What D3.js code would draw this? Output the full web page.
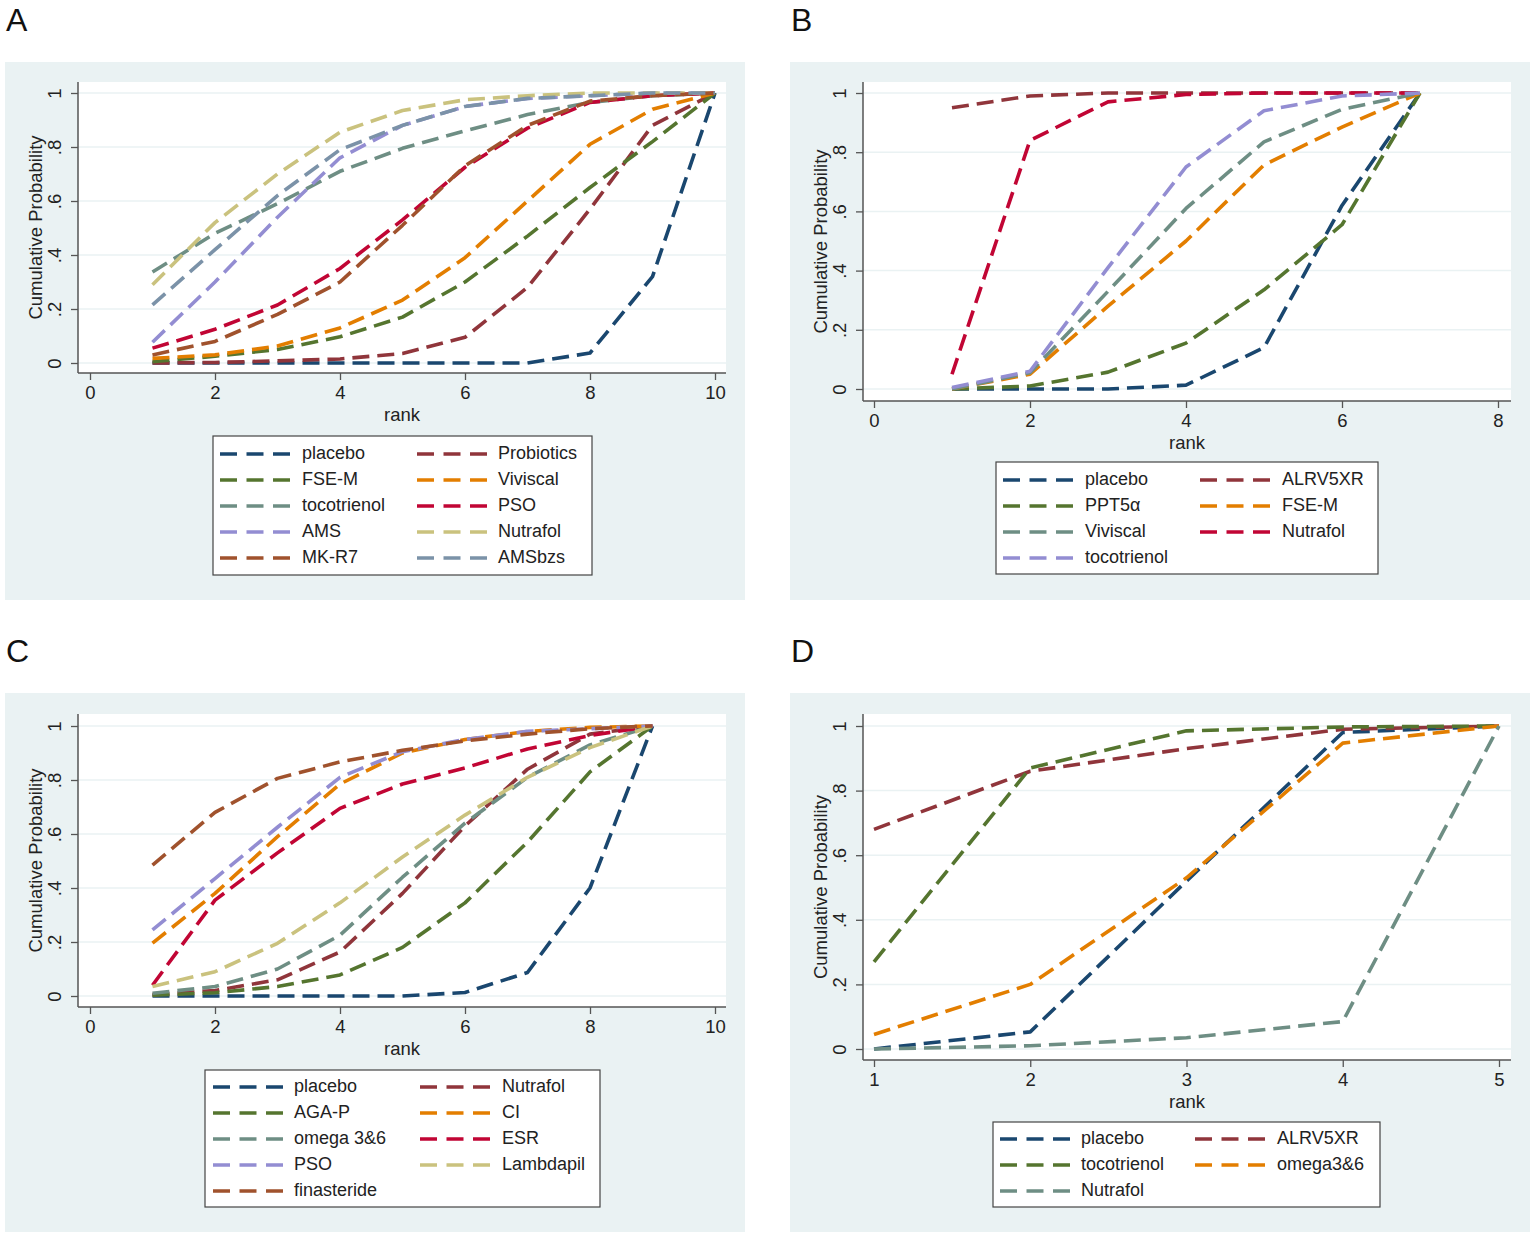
<!DOCTYPE html>
<html><head><meta charset="utf-8">
<script src="https://cdn.jsdelivr.net/npm/d3@7"></script>
<style>body{margin:0;background:#fff;} svg{display:block;font-family:"Liberation Sans",Arial,sans-serif;}</style>
</head><body><svg id="c" width="1535" height="1239"></svg>
<script>
// ---------- DATA ----------
const yTicks = [0, 0.2, 0.4, 0.6, 0.8, 1];
const yTickLabels = ["0", ".2", ".4", ".6", ".8", "1"];

// Panel A
const ranksA = [1,2,3,4,5,6,7,8,9,10];
const xTicksA = [0,2,4,6,8,10];
const namesA = ["placebo","Probiotics","FSE-M","Viviscal","tocotrienol","PSO","AMS","Nutrafol","MK-R7","AMSbzs"];
const valuesA = [
  [0,0,0,0,0,0,0,0.037,0.32,1],
  [0,0.002,0.008,0.015,0.035,0.095,0.28,0.57,0.88,1],
  [0.005,0.025,0.05,0.097,0.17,0.3,0.47,0.65,0.82,1],
  [0.017,0.03,0.063,0.13,0.233,0.39,0.6,0.81,0.94,1],
  [0.337,0.48,0.59,0.71,0.795,0.86,0.92,0.965,0.99,1],
  [0.055,0.125,0.215,0.35,0.53,0.725,0.87,0.965,0.99,1],
  [0.077,0.3,0.54,0.76,0.88,0.95,0.98,0.99,1,1],
  [0.29,0.52,0.7,0.855,0.935,0.975,0.99,1,1,1],
  [0.03,0.08,0.18,0.3,0.51,0.73,0.88,0.97,0.99,1],
  [0.215,0.42,0.62,0.79,0.88,0.95,0.98,0.99,1,1]
];
const colorsA = ["#1a476f","#90353b","#55752f","#e37e00","#6e8e84","#c10534","#938dd2","#cac27e","#a0522d","#7b92a8"];

// Panel B
const ranksB = [1,2,3,4,5,6,7];
const xTicksB = [0,2,4,6,8];
const namesB = ["placebo","ALRV5XR","PPT5\u03b1","FSE-M","Viviscal","Nutrafol","tocotrienol"];
const valuesB = [
  [0,0,0,0.013,0.14,0.62,1],
  [0.95,0.99,1,1,1,1,1],
  [0,0.01,0.057,0.155,0.335,0.555,1],
  [0,0.05,0.28,0.5,0.757,0.885,1],
  [0,0.055,0.33,0.61,0.835,0.945,1],
  [0.05,0.84,0.97,0.995,1,1,1],
  [0.005,0.06,0.41,0.75,0.94,0.99,1]
];
const colorsB = ["#1a476f","#90353b","#55752f","#e37e00","#6e8e84","#c10534","#938dd2"];

// Panel C
const ranksC = [1,2,3,4,5,6,7,8,9];
const xTicksC = [0,2,4,6,8,10];
const namesC = ["placebo","Nutrafol","AGA-P","CI","omega 3&6","ESR","PSO","Lambdapil","finasteride"];
const valuesC = [
  [0,0,0,0,0,0.013,0.087,0.4,1],
  [0.005,0.02,0.06,0.163,0.38,0.63,0.84,0.97,1],
  [0.003,0.012,0.035,0.078,0.18,0.345,0.57,0.83,1],
  [0.196,0.38,0.59,0.785,0.9,0.95,0.98,0.995,1],
  [0.01,0.035,0.1,0.225,0.44,0.64,0.81,0.93,1],
  [0.04,0.355,0.53,0.695,0.785,0.845,0.915,0.965,1],
  [0.245,0.435,0.625,0.81,0.905,0.95,0.98,0.99,1],
  [0.035,0.09,0.195,0.345,0.515,0.67,0.81,0.92,1],
  [0.485,0.68,0.806,0.867,0.91,0.945,0.97,0.99,1]
];
const colorsC = ["#1a476f","#90353b","#55752f","#e37e00","#6e8e84","#c10534","#938dd2","#cac27e","#a0522d"];

// Panel D
const ranksD = [1,2,3,4,5];
const xTicksD = [1,2,3,4,5];
const namesD = ["placebo","ALRV5XR","tocotrienol","omega3&6","Nutrafol"];
const valuesD = [
  [0,0.053,0.52,0.98,1],
  [0.68,0.86,0.93,0.99,1],
  [0.27,0.87,0.985,0.997,1],
  [0.045,0.2,0.53,0.947,1],
  [0,0.01,0.035,0.085,1]
];
const colorsD = ["#1a476f","#90353b","#55752f","#e37e00","#6e8e84"];

// ---------- LAYOUT ----------
const panels = [
  {letter:"A", bg:[5,62,740,538], plot:[78,82,726,373], xd:[0,10], xr:[90,715], yr:[363,93],
   ranks:ranksA, xticks:xTicksA, names:namesA, values:valuesA, colors:colorsA,
   leg:{box:[213,436,379,139], row0:454, c1:[220,302], c2:[417,498]}},
  {letter:"B", bg:[790,62,740,538], plot:[863,82,1511,401], xd:[0,8], xr:[874,1498], yr:[389,93],
   ranks:ranksB, xticks:xTicksB, names:namesB, values:valuesB, colors:colorsB,
   leg:{box:[996,462,382,112], row0:480, c1:[1003,1085], c2:[1200,1282]}},
  {letter:"C", bg:[5,693,740,539], plot:[78,714,726,1007], xd:[0,10], xr:[90,715], yr:[996,726],
   ranks:ranksC, xticks:xTicksC, names:namesC, values:valuesC, colors:colorsC,
   leg:{box:[205,1070,395,137], row0:1087, c1:[213,294], c2:[420,502]}},
  {letter:"D", bg:[790,693,740,539], plot:[863,714,1511,1060], xd:[1,5], xr:[874,1499], yr:[1049,726],
   ranks:ranksD, xticks:xTicksD, names:namesD, values:valuesD, colors:colorsD,
   leg:{box:[993,1122,387,85], row0:1139, c1:[1000,1081], c2:[1195,1277]}}
];

const svg = d3.select("#c");
const axisCol = "#555";
const textCol = "#222";
const fs = 18.5;

panels.forEach(p => {
  const g = svg.append("g");
  g.append("rect").attr("x",p.bg[0]).attr("y",p.bg[1]).attr("width",p.bg[2]).attr("height",p.bg[3]).attr("fill","#eaf2f3");
  const [px0,py0,px1,py1] = p.plot;
  g.append("rect").attr("x",px0).attr("y",py0).attr("width",px1-px0).attr("height",py1-py0).attr("fill","#fff");

  const x = d3.scaleLinear().domain(p.xd).range(p.xr);
  const y = d3.scaleLinear().domain([0,1]).range(p.yr);

  // gridlines
  g.selectAll(".grid").data(yTicks).join("line")
    .attr("x1",px0).attr("x2",px1).attr("y1",d=>y(d)).attr("y2",d=>y(d))
    .attr("stroke","#eaf2f3").attr("stroke-width",1.5);

  // lines
  const line = d3.line().x((d,i)=>x(p.ranks[i])).y(d=>y(d));
  p.values.forEach((vals,k) => {
    g.append("path").attr("d",line(vals)).attr("fill","none")
      .attr("stroke",p.colors[k]).attr("stroke-width",3.6)
      .attr("stroke-dasharray","17,8").attr("stroke-linejoin","round");
  });

  // axes
  const xAxis = d3.axisBottom(x).tickValues(p.xticks).tickSize(7).tickFormat(d3.format("d"));
  const xa = g.append("g").attr("transform",`translate(0,${py1})`).call(xAxis);
  xa.select(".domain").attr("d",`M${px0},0H${px1}`);
  const yAxis = d3.axisLeft(y).tickValues(yTicks).tickSize(7).tickFormat((d,i)=>yTickLabels[i]);
  const ya = g.append("g").attr("transform",`translate(${px0},0)`).call(yAxis);
  ya.select(".domain").attr("d",`M0,${py0}V${py1}`);
  [xa,ya].forEach(a=>{
    a.selectAll(".domain").attr("stroke",axisCol).attr("stroke-width",1.5);
    a.selectAll(".tick line").attr("stroke",axisCol).attr("stroke-width",1.3);
    a.selectAll("text").attr("fill",textCol).attr("font-size",fs).attr("font-family","Liberation Sans, Arial, sans-serif");
  });
  xa.selectAll(".tick text").attr("y",13).attr("dy","0.71em");
  ya.selectAll(".tick text").attr("x",0).attr("dy",0)
    .attr("transform","translate(-22,0) rotate(-90)").attr("text-anchor","middle").attr("dominant-baseline","middle");

  // titles
  g.append("text").attr("x",(px0+px1)/2).attr("y",py1+43).attr("text-anchor","middle")
    .attr("dominant-baseline","middle").attr("font-size",fs).attr("fill",textCol).text("rank");
  g.append("text").attr("transform",`translate(${px0-41},${(py0+py1)/2}) rotate(-90)`)
    .attr("text-anchor","middle").attr("dominant-baseline","middle").attr("font-size",fs).attr("fill",textCol)
    .text("Cumulative Probability");

  // panel letter
  g.append("text").attr("x",p.bg[0]+1).attr("y",p.bg[1]-31).attr("font-size",32).attr("fill","#111").text(p.letter);

  // legend
  const L = p.leg;
  g.append("rect").attr("x",L.box[0]).attr("y",L.box[1]).attr("width",L.box[2]).attr("height",L.box[3])
    .attr("fill","#fff").attr("stroke","#444").attr("stroke-width",1.2);
  p.names.forEach((n,i) => {
    const col = i%2, row = Math.floor(i/2);
    const c = col===0 ? L.c1 : L.c2;
    const yy = L.row0 + row*26;
    g.append("line").attr("x1",c[0]).attr("x2",c[0]+70).attr("y1",yy).attr("y2",yy)
      .attr("stroke",p.colors[i]).attr("stroke-width",3.6).attr("stroke-dasharray","17,9.5");
    g.append("text").attr("x",c[1]).attr("y",yy).attr("dominant-baseline","middle")
      .attr("font-size",18).attr("fill",textCol).text(n);
  });
});
</script></body></html>
